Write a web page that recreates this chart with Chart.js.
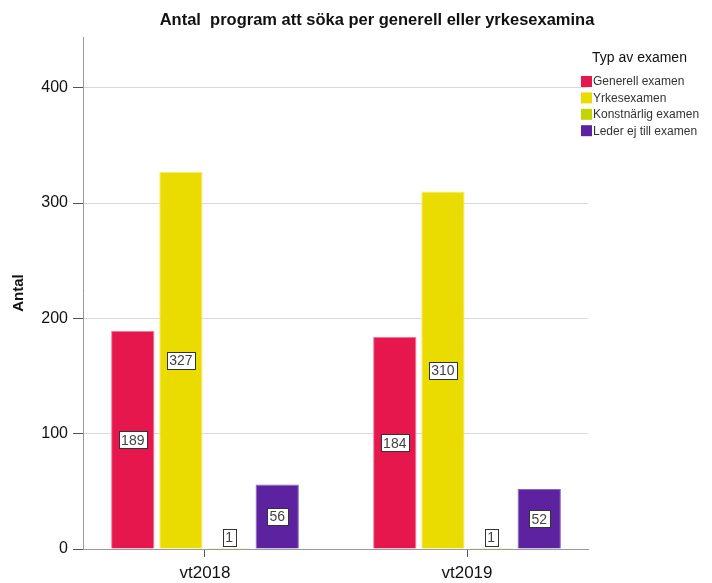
<!DOCTYPE html>
<html>
<head>
<meta charset="utf-8">
<script src="https://cdn.jsdelivr.net/npm/chart.js@4"></script>
<style>
  html, body { margin: 0; padding: 0; background: #fff; }
  #wrap { width: 712px; height: 583px; }
</style>
</head>
<body>
<div id="wrap"><canvas id="chart" width="712" height="583"></canvas></div>
<script>
var categories = ['vt2018', 'vt2019'];
var seriesNames = ['Generell examen', 'Yrkesexamen', 'Konstnärlig examen', 'Leder ej till examen'];
var generell = [189, 184];
var yrkes = [327, 310];
var konst = [1, 1];
var leder = [56, 52];
var yTicks = [0, 100, 200, 300, 400];
var colors = ['#e6174c', '#ebdc00', '#c2d500', '#5c22a0'];
var edges = ['#f27a98', '#f5ec70', '#dbe86a', '#8e66c0'];

var titleText = 'Antal  program att söka per generell eller yrkesexamina';
var legendTitle = 'Typ av examen';
var font = '"Liberation Sans", Arial, sans-serif';

// title + legend drawn by hand so they sit where SPSS put them
var decor = {
  id: 'decor',
  afterDraw: function(c) {
    var ctx = c.ctx;
    ctx.save();
    ctx.fillStyle = '#111';
    ctx.font = 'bold 16.5px ' + font;
    ctx.textAlign = 'center';
    ctx.textBaseline = 'middle';
    ctx.fillText(titleText, 377, 20);

    ctx.textAlign = 'left';
    ctx.font = '14px ' + font;
    ctx.fillStyle = '#111';
    ctx.fillText(legendTitle, 592, 58);
    ctx.font = '12px ' + font;
    c.data.datasets.forEach(function(ds, i) {
      var y = 76 + i * 16.4;
      ctx.fillStyle = ds.backgroundColor;
      ctx.fillRect(581, y, 11, 11);
      ctx.fillStyle = '#333';
      ctx.fillText(ds.label, 593, y + 6);
    });
    ctx.restore();
  }
};

// value boxes in the middle of each bar
var boxes = {
  id: 'boxes',
  afterDatasetsDraw: function(c) {
    var ctx = c.ctx;
    ctx.save();
    ctx.font = '14px ' + font;
    ctx.textAlign = 'center';
    ctx.textBaseline = 'middle';
    c.data.datasets.forEach(function(ds, i) {
      c.getDatasetMeta(i).data.forEach(function(bar, j) {
        var txt = String(ds.data[j].y);
        var w = Math.round(ctx.measureText(txt).width + 5);
        var h = 17;
        var cy = Math.min((bar.y + bar.base) / 2, bar.base - h / 2 - 3);
        var bx = Math.round(bar.x - w / 2) + 0.5;
        var by = Math.round(cy - h / 2) + 0.5;
        ctx.fillStyle = '#fff';
        ctx.fillRect(bx, by, w, h);
        ctx.strokeStyle = '#333';
        ctx.lineWidth = 1;
        ctx.strokeRect(bx, by, w, h);
        ctx.fillStyle = '#444';
        ctx.fillText(txt, bar.x, cy + 1);
      });
    });
    ctx.restore();
  }
};

var series = [generell, yrkes, konst, leder];
var datasets = series.map(function(vals, i) {
  return {
    label: seriesNames[i],
    data: vals.map(function(v, k) { return { x: k, y: v }; }),
    backgroundColor: colors[i],
    borderColor: edges[i],
    borderWidth: 1,
    categoryPercentage: 0.735,
    barPercentage: 0.9
  };
});

new Chart(document.getElementById('chart'), {
  type: 'bar',
  data: { datasets: datasets },
  options: {
    responsive: false,
    animation: false,
    layout: { padding: { top: 37, right: 124, left: 0, bottom: 0 } },
    plugins: {
      legend: { display: false },
      title: { display: false },
      tooltip: { enabled: false }
    },
    scales: {
      x: {
        type: 'linear',
        offset: false,
        min: -0.4656,
        max: 1.4618,
        afterBuildTicks: function(s) {
          s.ticks = categories.map(function(_, k) { return { value: k }; });
        },
        grid: { display: true, offset: false, drawOnChartArea: false, tickLength: 8, tickColor: '#555', drawTicks: true },
        border: { color: '#999', width: 1 },
        ticks: {
          color: '#111', font: { family: font, size: 17 }, padding: 6,
          callback: function(v) { return categories[v]; }
        },
        afterFit: function(s) { s.height = 34; }
      },
      y: {
        min: 0,
        max: 444,
        afterBuildTicks: function(s) {
          s.ticks = yTicks.map(function(v) { return { value: v }; });
        },
        grid: {
          color: function(ctx) { return ctx.tick && ctx.tick.value === 0 ? 'rgba(0,0,0,0)' : '#d9d9d9'; },
          tickColor: '#555',
          tickLength: 10
        },
        border: { color: '#999', width: 1 },
        ticks: { color: '#111', font: { family: font, size: 16 }, padding: 5 },
        title: { display: true, text: 'Antal', color: '#111', font: { family: font, size: 15, weight: 'bold' }, padding: { top: 10, bottom: 0 } },
        afterFit: function(s) { s.width = 83; }
      }
    }
  },
  plugins: [boxes, decor]
});
</script>
</body>
</html>
